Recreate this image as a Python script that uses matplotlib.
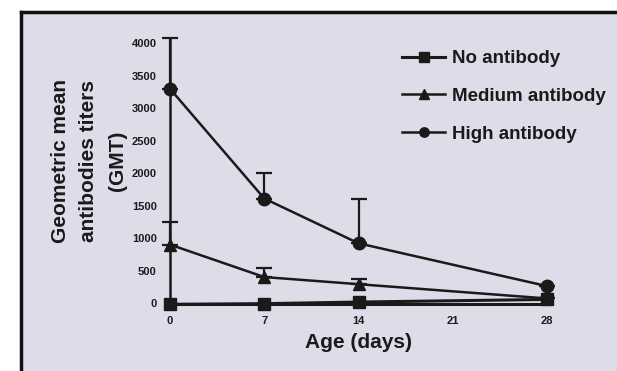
import matplotlib
matplotlib.use('Agg')
import matplotlib.pyplot as plt
from matplotlib.patches import Rectangle
from matplotlib.lines import Line2D

plt.rcParams['font.family'] = ['Liberation Sans Narrow', 'Liberation Sans', 'DejaVu Sans']
plt.rcParams['font.weight'] = 'bold'

days = [0, 7, 14, 28]
no_ab = [-20, -10, 15, 55]
medium_ab = [900, 400, 290, 70]
medium_err = [350, 140, 80, 0]
high_ab = [3300, 1610, 920, 260]
high_err = [780, 390, 690, 0]

xticks = [0, 7, 14, 21, 28]
yticks = [0, 500, 1000, 1500, 2000, 2500, 3000, 3500, 4000]

bg = '#dedce9'
W, H = 617, 371

fig = plt.figure(figsize=(6.17, 3.71), dpi=100)
fig.patch.set_facecolor('white')

# lavender panel with black border on top and left
fig.patches.append(Rectangle((21 / W, 0), 1, 1 - 12 / H, transform=fig.transFigure,
                             facecolor=bg, edgecolor='none', zorder=-10))
fig.lines.append(Line2D([21 / W, 1], [1 - 12 / H, 1 - 12 / H], transform=fig.transFigure,
                        color='#111111', lw=2.5, zorder=-5))
fig.lines.append(Line2D([21 / W, 21 / W], [0, 1 - 12 / H], transform=fig.transFigure,
                        color='#111111', lw=2.5, zorder=-5))

ax = fig.add_axes([0.2537, 0.157, 0.6548, 0.7786])
ax.set_facecolor('none')
c = '#1a1a1a'
ax.spines['top'].set_visible(False)
ax.spines['right'].set_visible(False)
# axes drawn through the data origin, as in the original figure
ax.spines['left'].set_position(('data', 0))
ax.spines['left'].set_bounds(no_ab[0], high_ab[0] + high_err[0])
ax.spines['left'].set_linewidth(1.8)
ax.spines['left'].set_color(c)
ax.spines['bottom'].set_position(('data', no_ab[0]))
ax.spines['bottom'].set_bounds(days[0], days[-1])
ax.spines['bottom'].set_linewidth(2.2)
ax.spines['bottom'].set_color(c)

# error bars (upper only)
ax.errorbar(days, high_ab, yerr=[[0] * 4, high_err], fmt='none', ecolor=c,
            elinewidth=1.6, capsize=6, capthick=1.6, zorder=2)
ax.errorbar(days, medium_ab, yerr=[[0] * 4, medium_err], fmt='none', ecolor=c,
            elinewidth=1.6, capsize=6, capthick=1.6, zorder=2)

ax.plot(days, no_ab, color=c, lw=2.2, marker='s', ms=9, label='No antibody', zorder=3)
ax.plot(days, medium_ab, color=c, lw=1.8, marker='^', ms=9, label='Medium antibody', zorder=3)
ax.plot(days, high_ab, color=c, lw=1.8, marker='o', ms=9, label='High antibody', zorder=3)

ax.set_xlim(-1, 29)
ax.set_ylim(-150, 4300)
ax.set_xticks(xticks)
ax.set_yticks(yticks)
ax.tick_params(length=0, labelsize=8, colors=c)
ax.tick_params(axis='y', pad=9.5)
ax.tick_params(axis='x', pad=8.5)

ax.set_xlabel('Age (days)', fontsize=15, fontweight='bold', color=c, labelpad=5)
fig.text(89 / W, 1 - 161 / H, 'Geometric mean\nantibodies titers\n(GMT)', rotation=90,
         ha='center', va='center', fontsize=15, color=c, linespacing=1.6)

leg = ax.legend(loc='upper left', bbox_to_anchor=(402 / W, 1 - 50 / H),
                bbox_transform=fig.transFigure, frameon=False, fontsize=13.5,
                handlelength=2.3, handletextpad=0.35, labelspacing=1.1,
                borderpad=0, borderaxespad=0, markerscale=0.75)
for t in leg.get_texts():
    t.set_color(c)

fig.savefig('out.png', dpi=100)
